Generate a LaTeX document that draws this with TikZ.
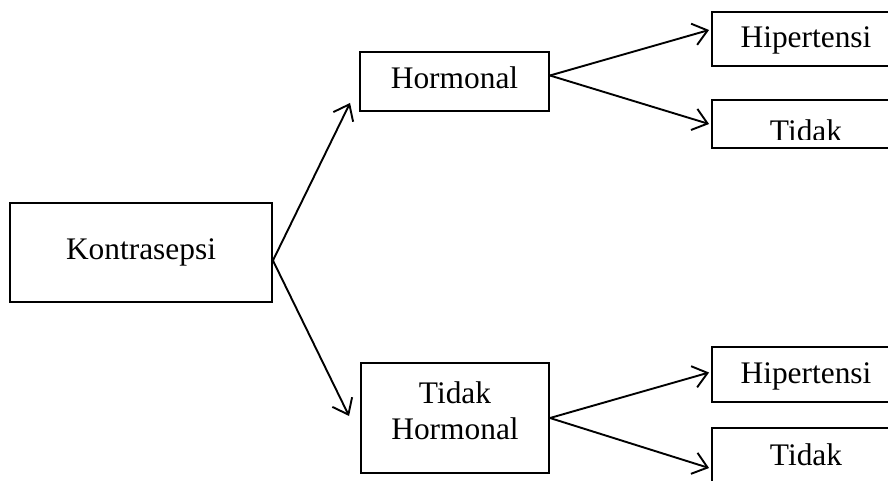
\documentclass[tikz,border=0pt]{standalone}
\usepackage{fontspec}
\setmainfont{Liberation Serif}
\usepackage{tikz}
\usetikzlibrary{
    arrows.meta
}

\begin{document}
\begin{tikzpicture}[->,>={Straight Barb[length=7pt,width=11pt]},x=0.5pt,y=-0.5pt,line width=0.95pt]
    \tikzstyle{box}=[draw, rectangle, inner sep=0pt, text height=0.8em, text depth=0.1em, font=\fontsize{15.7}{18}\selectfont]
    \tikzstyle{rbox}=[box, text height=0.9em, text depth=0pt]
    \tikzstyle{lbl}=[inner sep=0pt, font=\fontsize{15.7}{18}\selectfont]

    \useasboundingbox (0,0) rectangle (888,481);
    \clip (0,0) rectangle (888,481);

    \node[box, minimum width=131pt, minimum height=49.5pt] (kon) at (141,252.5) {Kontrasepsi};
    \node[box, minimum width=94.5pt, minimum height=29.5pt] (hor) at (454.5,81.5) {Hormonal};
    \node[box, minimum width=94pt, minimum height=55pt, align=center, text height=21pt, text depth=0pt] (thor) at (455,418) {Tidak\\Hormonal};

    \node[rbox, minimum width=94pt, minimum height=27pt] (hip1) at (806,39) {Hipertensi};
    \node[box, minimum width=94pt, minimum height=24pt] (tid1) at (806,124) {};
    \begin{scope}
        \clip (tid1.north west) rectangle ([yshift=4.5pt]tid1.south east);
        \node[lbl, anchor=base] (tidtxt) at (806,141) {Tidak};
    \end{scope}
    \node[rbox, minimum width=94pt, minimum height=27.5pt] (hip2) at (806,374.5) {Hipertensi};
    \node[box, minimum width=94pt, minimum height=30pt] (tid2) at (806,458) {Tidak};

    \path ([yshift=-4pt]kon.east) edge ([xshift=-4.5pt,yshift=4.5pt]hor.south west);
    \path ([yshift=-4pt]kon.east) edge ([xshift=-5.5pt,yshift=1pt]thor.west);
    \path ([yshift=3pt]hor.east) edge ([xshift=-1pt,yshift=4.5pt]hip1.west);
    \path ([yshift=3pt]hor.east) edge ([xshift=-1pt]tid1.west);
    \path (thor.east) edge ([xshift=-1pt,yshift=1pt]hip2.west);
    \path (thor.east) edge ([xshift=-1pt,yshift=-5pt]tid2.west);
\end{tikzpicture}
\end{document}
